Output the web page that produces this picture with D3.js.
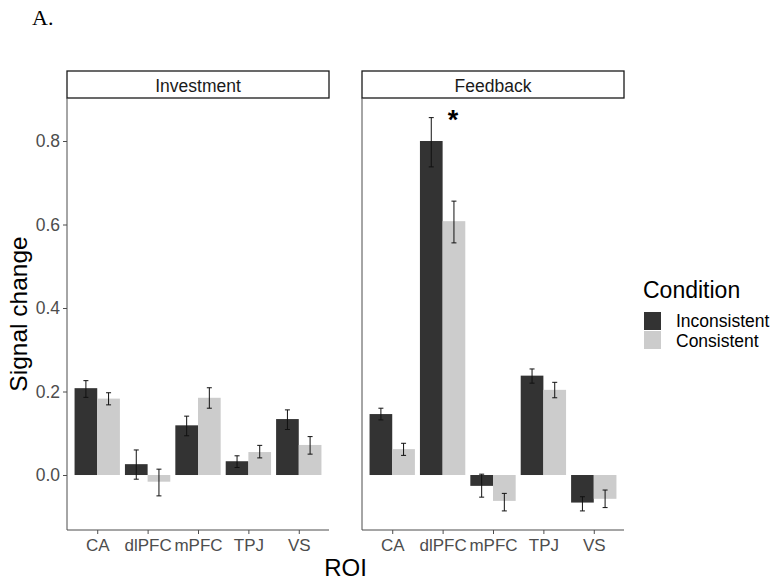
<!DOCTYPE html>
<html>
<head>
<meta charset="utf-8">
<script src="https://cdn.jsdelivr.net/npm/d3@7"></script>
<style>
  body { margin: 0; background: #fff; }
  text { font-family: "Liberation Sans", Arial, sans-serif; }
</style>
</head>
<body>
<div id="chart"></div>
<script>
  const rois = ['CA', 'dlPFC', 'mPFC', 'TPJ', 'VS'];
  const conditions = ['Inconsistent', 'Consistent'];
  const phases = ['Investment', 'Feedback'];

  // mean, lower, upper per ROI
  const invInconsistent = [0.208, 0.026, 0.119, 0.033, 0.134];
  const invInconsistentLo = [0.186, -0.010, 0.094, 0.018, 0.109];
  const invInconsistentHi = [0.226, 0.060, 0.141, 0.046, 0.156];
  const invConsistent = [0.183, -0.016, 0.185, 0.055, 0.072];
  const invConsistentLo = [0.168, -0.050, 0.160, 0.041, 0.050];
  const invConsistentHi = [0.197, 0.014, 0.209, 0.071, 0.092];

  const fbInconsistent = [0.146, 0.800, -0.026, 0.238, -0.066];
  const fbInconsistentLo = [0.132, 0.738, -0.053, 0.220, -0.086];
  const fbInconsistentHi = [0.160, 0.856, 0.002, 0.254, -0.052];
  const fbConsistent = [0.062, 0.608, -0.062, 0.204, -0.057];
  const fbConsistentLo = [0.047, 0.556, -0.086, 0.185, -0.078];
  const fbConsistentHi = [0.076, 0.656, -0.044, 0.222, -0.036];

  const yTicks = [0.0, 0.2, 0.4, 0.6, 0.8];

  const w = 771, h = 581;
  const colors = { Inconsistent: '#333333', Consistent: '#cccccc' };

  const series = {
    Investment: {
      Inconsistent: [invInconsistent, invInconsistentLo, invInconsistentHi],
      Consistent: [invConsistent, invConsistentLo, invConsistentHi]
    },
    Feedback: {
      Inconsistent: [fbInconsistent, fbInconsistentLo, fbInconsistentHi],
      Consistent: [fbConsistent, fbConsistentLo, fbConsistentHi]
    }
  };

  const svg = d3.select('#chart').append('svg')
    .attr('width', w)
    .attr('height', h);

  svg.append('text')
    .attr('x', 32).attr('y', 25)
    .style('font-family', '"Liberation Serif", "Times New Roman", serif')
    .style('font-size', '22px')
    .text('A.');

  const panelTop = 98, panelBottom = 530;
  const panelX = { Investment: [67, 329], Feedback: [362, 624] };

  const y = d3.scaleLinear().domain([-0.1317, 0.903]).range([panelBottom, panelTop]);

  phases.forEach(phase => {
    const [x0, x1] = panelX[phase];
    const x = d3.scalePoint().domain(rois).range([x0, x1]).padding(0.6);
    const step = x.step();
    const xc = d3.scaleBand().domain(conditions).range([-0.45 * step, 0.45 * step]);

    const g = svg.append('g');

    // strip
    g.append('rect')
      .attr('x', x0).attr('y', 71)
      .attr('width', x1 - x0).attr('height', panelTop - 71)
      .attr('fill', '#fff').attr('stroke', '#1a1a1a').attr('stroke-width', 1.3);
    g.append('text')
      .attr('x', (x0 + x1) / 2).attr('y', 92)
      .attr('text-anchor', 'middle')
      .attr('fill', '#1a1a1a')
      .style('font-size', '17.5px')
      .text(phase);

    conditions.forEach(cond => {
      const [vals, lo, hi] = series[phase][cond];
      g.append('g').selectAll('rect')
        .data(rois)
        .join('rect')
          .attr('x', (d, i) => x(d) + xc(cond))
          .attr('y', (d, i) => y(Math.max(0, vals[i])))
          .attr('width', xc.bandwidth())
          .attr('height', (d, i) => Math.abs(y(vals[i]) - y(0)))
          .attr('fill', colors[cond]);

      const eb = g.append('g')
        .attr('stroke', '#111')
        .attr('stroke-width', 1);
      rois.forEach((d, i) => {
        const cx = x(d) + xc(cond) + xc.bandwidth() / 2;
        eb.append('line').attr('x1', cx).attr('x2', cx).attr('y1', y(lo[i])).attr('y2', y(hi[i]));
        eb.append('line').attr('x1', cx - 2.5).attr('x2', cx + 2.5).attr('y1', y(lo[i])).attr('y2', y(lo[i]));
        eb.append('line').attr('x1', cx - 2.5).attr('x2', cx + 2.5).attr('y1', y(hi[i])).attr('y2', y(hi[i]));
      });
    });

    // x axis
    const xAxis = g.append('g')
      .attr('transform', 'translate(0,' + panelBottom + ')')
      .call(d3.axisBottom(x).tickSize(4).tickPadding(5))
      .call(a => a.select('.domain').attr('d', 'M' + x0 + ',0H' + x1).attr('stroke', '#4d4d4d'));
    xAxis.selectAll('.tick line').attr('stroke', '#4d4d4d');
    xAxis.selectAll('.tick text')
      .attr('fill', '#4d4d4d')
      .style('font-size', '17px')
      .style('font-family', '"Liberation Sans", Arial, sans-serif');

    // y axis line
    const yAxis = g.append('g')
      .attr('transform', 'translate(' + x0 + ',0)')
      .call(d3.axisLeft(y).tickValues(yTicks).tickFormat(d3.format('.1f')).tickSize(phase === 'Investment' ? 4 : 0).tickPadding(3))
      .call(a => a.select('.domain').attr('d', 'M0,' + panelTop + 'V' + panelBottom).attr('stroke', '#4d4d4d'));
    yAxis.selectAll('.tick line').attr('stroke', '#4d4d4d');
    yAxis.selectAll('.tick text')
      .attr('fill', '#4d4d4d')
      .style('font-size', '17.5px')
      .style('font-family', '"Liberation Sans", Arial, sans-serif')
      .style('display', phase === 'Investment' ? null : 'none');

    if (phase === 'Feedback') {
      g.append('text')
        .attr('x', x('dlPFC') + xc('Consistent') + xc.bandwidth() / 2 - 1)
        .attr('y', y(fbInconsistentHi[1]) + 11)
        .attr('text-anchor', 'middle')
        .style('font-size', '27px')
        .style('font-weight', 'bold')
        .text('*');
    }
  });

  // axis titles
  svg.append('text')
    .attr('transform', 'translate(27,' + (panelTop + panelBottom) / 2 + ') rotate(-90)')
    .attr('text-anchor', 'middle')
    .style('font-size', '24.5px')
    .text('Signal change');

  svg.append('text')
    .attr('x', (67 + 624) / 2).attr('y', 576)
    .attr('text-anchor', 'middle')
    .style('font-size', '24px')
    .text('ROI');

  // legend
  const legend = svg.append('g').attr('transform', 'translate(643,0)');
  legend.append('text')
    .attr('x', 0).attr('y', 298)
    .style('font-size', '23px')
    .text('Condition');
  conditions.forEach((cond, i) => {
    legend.append('rect')
      .attr('x', 1).attr('y', 312 + i * 19)
      .attr('width', 17).attr('height', 18)
      .attr('fill', colors[cond]);
    legend.append('text')
      .attr('x', 33).attr('y', 327 + i * 20)
      .style('font-size', '17.5px')
      .text(cond);
  });
</script>
</body>
</html>
